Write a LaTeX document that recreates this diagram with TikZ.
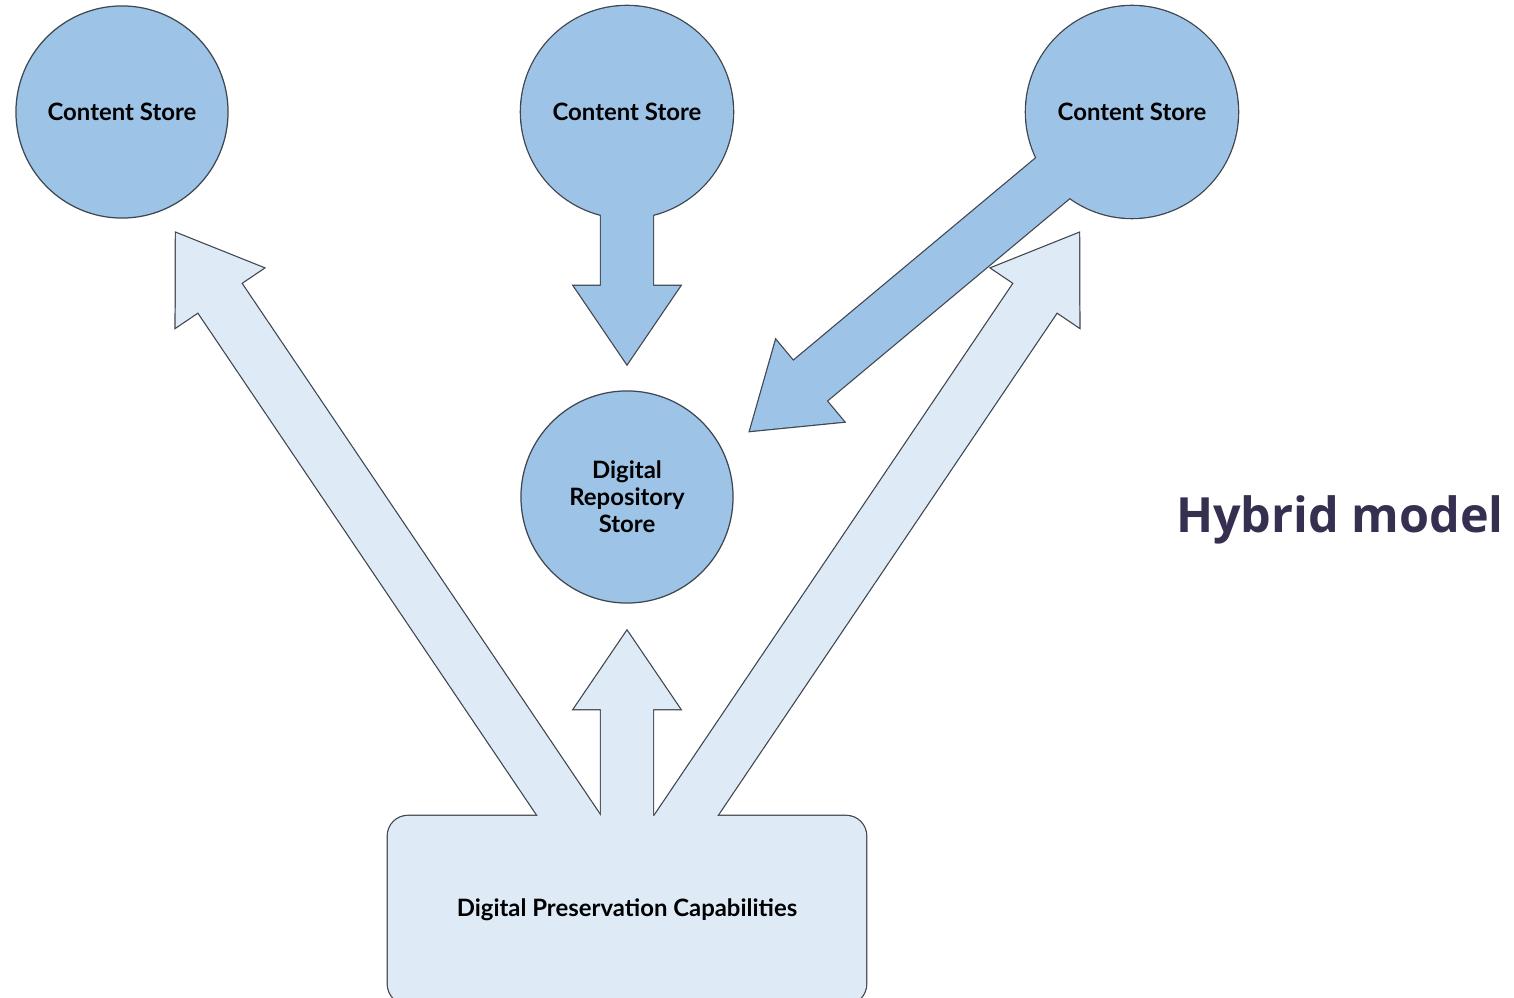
\documentclass[tikz,border=0pt]{standalone}
\usepackage{fontspec}
\setmainfont{Lato}
\newfontfamily\titlefont{Open Sans}
\usetikzlibrary{calc}
\definecolor{storeblue}{HTML}{9DC3E6}
\definecolor{capblue}{HTML}{DEEBF7}
\definecolor{edgegray}{HTML}{3F4650}
\definecolor{titleink}{HTML}{372F4F}
% block arrow from tail #2 to tip #3 (shaft 52, head 106 x 78)
\def\blockarrow[#1](#2)(#3){\path ($(#3)!0.78cm!(#2)$) coordinate (neck);
	\path[#1] ($(#2)!0.26cm!90:(#3)$) -- ($(neck)!0.26cm!90:(#3)$) -- ($(neck)!0.53cm!90:(#3)$) -- (#3)
	-- ($(neck)!0.53cm!-90:(#3)$) -- ($(neck)!0.26cm!-90:(#3)$) -- ($(#2)!0.26cm!-90:(#3)$) -- cycle;}

\begin{document}
\begin{tikzpicture}[x=0.01cm, y=-0.01cm,
	labeltext/.style={font=\bfseries\fontsize{6.8}{7.7}\selectfont, align=center},
	storecircle/.style={circle, minimum size=2.12cm, inner sep=0pt, outer sep=0pt, fill=storeblue, draw=edgegray, line width=0.35pt, labeltext},
	capbox/.style={rectangle, rounded corners=0.2cm, minimum width=4.78cm, minimum height=1.88cm, outer sep=0pt, fill=capblue, draw=edgegray, line width=0.7pt},
	unionedge/.style={draw=edgegray, line width=0.7pt, line join=miter}]
	\useasboundingbox (0,0) rectangle (1514,998);
	\clip (0,0) rectangle (1514,998);
	
	%%%%% capabilities box and light arrows %%%%%
	\node[capbox] (dpc) at (627,910) {};
	\coordinate (lt-tail) at (599,860);
	\coordinate (lt-tip) at (176,233);
	\coordinate (md-tail) at (627,860);
	\coordinate (md-tip) at (627,631);
	\coordinate (rt-tail) at (656,860);
	\coordinate (rt-tip) at (1079,233);
	
	\blockarrow[unionedge](lt-tail)(lt-tip)
	\blockarrow[unionedge](md-tail)(md-tip)
	\blockarrow[unionedge](rt-tail)(rt-tip)
	\blockarrow[fill=capblue](lt-tail)(lt-tip)
	\blockarrow[fill=capblue](md-tail)(md-tip)
	\blockarrow[fill=capblue](rt-tail)(rt-tip)
	\fill[capblue, rounded corners=0.2cm] (dpc.north west) rectangle (dpc.south east);
	\node[labeltext] (dpc-label) at (dpc.center) {Digital Preservation Capabilities};
	
	%%%%% stores %%%%%
	\node[storecircle] (cs1) at (122,112) {Content Store};
	\node[storecircle, line width=0.7pt] (cs2) at (627,112) {};
	\node[storecircle, line width=0.7pt] (cs3) at (1132,112) {};
	\node[storecircle] (drs) at (627,497) {Digital\\Repository\\Store};
	
	\coordinate (dn-tip) at (627,364);
	\coordinate (dg-tip) at (750,431);
	\blockarrow[unionedge](cs2.center)(dn-tip)
	\blockarrow[unionedge](cs3.center)(dg-tip)
	\blockarrow[fill=storeblue](cs2.center)(dn-tip)
	\blockarrow[fill=storeblue](cs3.center)(dg-tip)
	\fill[storeblue] (cs2.center) circle (106);
	\fill[storeblue] (cs3.center) circle (106);
	\node[labeltext] (cs2-label) at (cs2.center) {Content Store};
	\node[labeltext] (cs3-label) at (cs3.center) {Content Store};
	
	\node[anchor=base, text=titleink, font=\titlefont\bfseries\fontsize{13.8}{16}\selectfont] (title) at (1340,533) {Hybrid model};
\end{tikzpicture}
\end{document}
